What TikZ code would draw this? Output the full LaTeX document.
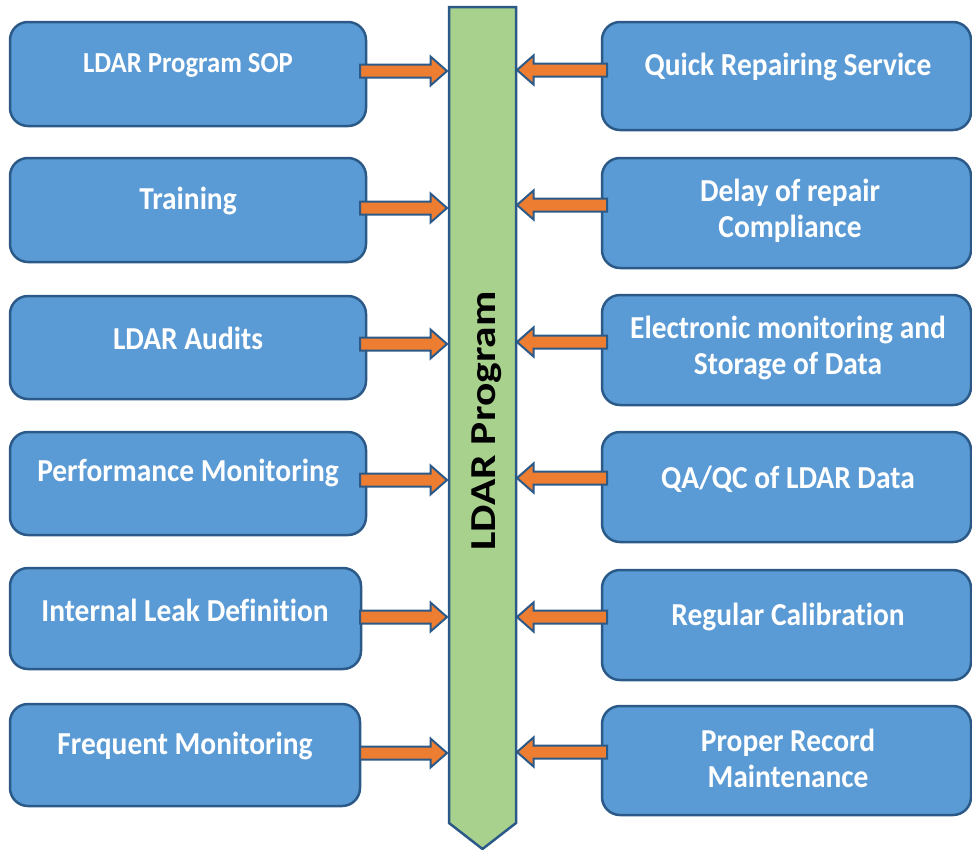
\documentclass[tikz,border=0pt]{standalone}
\usepackage{fontspec}
\setmainfont{Carlito}[RawFeature={-liga;-dlig;-clig}]
\usetikzlibrary{calc}
\definecolor{boxfill}{HTML}{5B9BD5}
\definecolor{edgeblue}{HTML}{2C5A88}
\definecolor{arrowfill}{HTML}{ED7D31}
\definecolor{barfill}{HTML}{A9D18E}
\begin{document}
\begin{tikzpicture}[x=1pt,y=-1pt,line join=miter,
  box/.style={draw=edgeblue,fill=boxfill,line width=2.5pt,rounded corners=18pt,inner sep=0pt},
  txt/.style={text=white,font=\bfseries\fontsize{32}{36}\selectfont,align=center,inner sep=0pt,xscale=0.92},
  smalltxt/.style={txt,font=\bfseries\fontsize{29}{34}\selectfont},
  blockarrow/.style={draw=edgeblue,fill=arrowfill,line width=2pt,
    to path={($(\tikztostart)+(0,-6.5)$) -- ($(\tikztotarget)!16.5pt!(\tikztostart)+(0,-6.5)$)
      -- ($(\tikztotarget)!16.5pt!(\tikztostart)+(0,-14.5)$) -- (\tikztotarget)
      -- ($(\tikztotarget)!16.5pt!(\tikztostart)+(0,14.5)$) -- ($(\tikztotarget)!16.5pt!(\tikztostart)+(0,6.5)$)
      -- ($(\tikztostart)+(0,6.5)$) -- cycle}}]
\useasboundingbox (0,0) rectangle (972,849);
% central bar
\draw[draw=edgeblue,fill=barfill,line width=2.5pt] (449,7) -- (516,7) -- (516,823) -- (482.5,849) -- (449,823) -- cycle;
\node[rotate=90,anchor=base,font=\bfseries\fontsize{43.5}{48}\selectfont,inner sep=0pt] (bar) at (495,421) {\scalebox{1}[0.84]{LDAR Program}};
% left boxes
\node[box,minimum width=356pt,minimum height=104pt] (L1) at (188,74) {};
\node[box,minimum width=356pt,minimum height=104pt] (L2) at (188,210) {};
\node[box,minimum width=356pt,minimum height=103pt] (L3) at (188,347.5) {};
\node[box,minimum width=356pt,minimum height=103pt] (L4) at (188,483.5) {};
\node[box,minimum width=351pt,minimum height=101pt] (L5) at (185.5,618.5) {};
\node[box,minimum width=350pt,minimum height=102pt] (L6) at (185,755) {};
% right boxes
\node[box,minimum width=369pt,minimum height=108pt] (R1) at (786.5,76) {};
\node[box,minimum width=369pt,minimum height=110pt] (R2) at (786.5,213) {};
\node[box,minimum width=369pt,minimum height=110pt] (R3) at (786.5,350) {};
\node[box,minimum width=369pt,minimum height=110pt] (R4) at (786.5,487) {};
\node[box,minimum width=369pt,minimum height=110pt] (R5) at (786.5,625) {};
\node[box,minimum width=369pt,minimum height=109pt] (R6) at (786.5,760.5) {};
% texts
\node[smalltxt] (tL1) at (188,65) {LDAR Program SOP};
\node[txt] (tL2) at (188,201) {Training};
\node[txt] (tL3) at (188,338) {LDAR Audits};
\node[txt] (tL4) at (188,473) {Performance Monitoring};
\node[txt] (tL5) at (185,610) {Internal Leak Definition};
\node[txt] (tL6) at (185,746) {Frequent Monitoring};
\node[txt] (tR1) at (788,67) {Quick Repairing Service};
\node[txt] (tR2) at (790,211) {Delay of repair\\Compliance};
\node[txt] (tR3) at (788,348) {Electronic monitoring and\\Storage of Data};
\node[txt] (tR4) at (788,479) {QA/QC of LDAR Data};
\node[txt] (tR5) at (788,617) {Regular Calibration};
\node[txt] (tR6) at (788,758.5) {Proper Record\\Maintenance};
% arrow end coordinates
\coordinate (barW) at (447,0);
\coordinate (barE) at (517,0);
\coordinate (aL) at (360,0);
\coordinate (aR) at (607,0);
\foreach \i/\yl/\yr in {1/71/70,2/208/205,3/344/342,4/480/478,5/617/617,6/753/752}{
  \draw[blockarrow] (aL |- 0,\yl) to (barW |- 0,\yl);
  \draw[blockarrow] (aR |- 0,\yr) to (barE |- 0,\yr);
}
\end{tikzpicture}
\end{document}
